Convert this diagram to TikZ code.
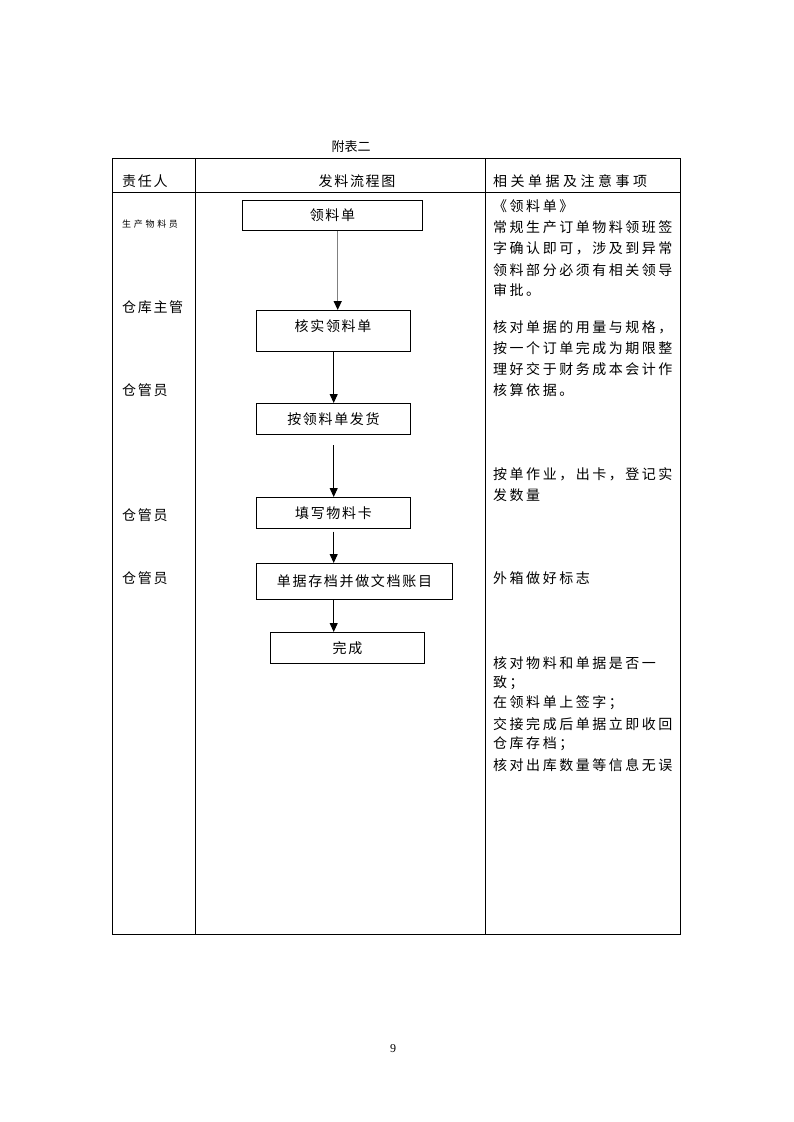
\documentclass[tikz,border=0pt]{standalone}
\usepackage{fontspec}
\setmainfont{Liberation Serif}
\newfontfamily\cjk{Noto Sans CJK SC}
\newfontfamily\cjkR[LetterSpace=18]{Noto Sans CJK SC}
\newfontfamily\cjkB[LetterSpace=12]{Noto Sans CJK SC}
\newfontfamily\cjkH[LetterSpace=25]{Noto Sans CJK SC}
\newfontfamily\cjkS[LetterSpace=30]{Noto Sans CJK SC}
\usetikzlibrary{arrows.meta}
\begin{document}
\begin{tikzpicture}[x=1pt,y=-1pt,
  frame/.style={line width=0.9pt,black},
  fbox/.style={draw,line width=0.9pt,inner sep=0pt,anchor=north west,
    font=\cjkB\fontsize{14}{14}\selectfont},
  arr/.style={line width=1pt,-{Triangle[width=8pt,length=9pt]}},
  garr/.style={line width=1.4pt,gray,-{Triangle[width=8pt,length=9pt,color=black]}},
  lt/.style={anchor=west,inner sep=0pt,font=\cjkB\fontsize{14}{14}\selectfont},
  rt/.style={anchor=west,inner sep=0pt,font=\cjkR\fontsize{14}{14}\selectfont}]
\useasboundingbox[fill=white] (0,0) rectangle (793,1122);
% table
\draw[frame] (112,158) rectangle (680,934);
\draw[frame] (112,192) -- (680,192);
\draw[frame] (195,158) -- (195,934);
\draw[frame] (485,158) -- (485,934);
\node[inner sep=0pt,font=\cjk\fontsize{13}{13}\selectfont] (title) at (351,147) {附表二};
% headers
\node[lt] (h1) at (122,181) {责任人};
\node[inner sep=0pt,font=\cjkB\fontsize{14}{14}\selectfont] (h2) at (357,181) {发料流程图};
\node[anchor=west,inner sep=0pt,font=\cjkH\fontsize{14}{14}\selectfont] (h3) at (493,181) {相关单据及注意事项};
% left column
\node[anchor=west,inner sep=0pt,font=\cjkS\fontsize{9}{9}\selectfont] (p1) at (122,224) {生产物料员};
\node[lt] (p2) at (122,307) {仓库主管};
\node[lt] (p3) at (122,390) {仓管员};
\node[lt] (p4) at (122,515) {仓管员};
\node[lt] (p5) at (122,578) {仓管员};
% flow boxes
\node[fbox,minimum width=180,minimum height=30] (b1) at (242,200) {领料单};
\node[fbox,minimum width=154,minimum height=41] (b2) at (256,310) {};
\node[inner sep=0pt,font=\cjkB\fontsize{14}{14}\selectfont] (t2) at (333,326) {核实领料单};
\node[fbox,minimum width=154,minimum height=31] (b3) at (256,403) {按领料单发货};
\node[fbox,minimum width=154,minimum height=31] (b4) at (256,497) {填写物料卡};
\node[fbox,minimum width=196,minimum height=36] (b5) at (256,563) {单据存档并做文档账目};
\node[fbox,minimum width=154,minimum height=31] (b6) at (270,632) {完成};
% connectors
\coordinate (x1) at (337.7,0);
\coordinate (x2) at (333.7,0);
\coordinate (s3) at (333.7,445);
\coordinate (s4) at (333.7,531.5);
\draw[garr] (b1.south -| x1) -- (b2.north -| x1);
\draw[arr] (b2.south -| x2) -- (b3.north -| x2);
\draw[arr] (s3) -- (b4.north -| x2);
\draw[arr] (s4) -- (b5.north -| x2);
\draw[arr] (b5.south -| x2) -- (b6.north -| x2);
% right column
\node[rt] (r1) at (493,206) {《领料单》};
\node[rt] (r2) at (493,227) {常规生产订单物料领班签};
\node[rt] (r3) at (493,248) {字确认即可，涉及到异常};
\node[rt] (r4) at (493,270) {领料部分必须有相关领导};
\node[rt] (r5) at (493,290) {审批。};
\node[rt] (r6) at (493,327) {核对单据的用量与规格，};
\node[rt] (r7) at (493,348) {按一个订单完成为期限整};
\node[rt] (r8) at (493,369) {理好交于财务成本会计作};
\node[rt] (r9) at (493,390) {核算依据。};
\node[rt] (r10) at (493,474) {按单作业，出卡，登记实};
\node[rt] (r11) at (493,495) {发数量};
\node[rt] (r12) at (493,578) {外箱做好标志};
\node[rt] (r13) at (493,663) {核对物料和单据是否一};
\node[rt] (r14) at (493,683) {致；};
\node[rt] (r15) at (493,703) {在领料单上签字；};
\node[rt] (r16) at (493,724) {交接完成后单据立即收回};
\node[rt] (r17) at (493,744) {仓库存档；};
\node[rt] (r18) at (493,765) {核对出库数量等信息无误};
% page number
\node[inner sep=0pt,font=\fontsize{12}{12}\selectfont] (pg) at (393,1049) {9};
\end{tikzpicture}
\end{document}
